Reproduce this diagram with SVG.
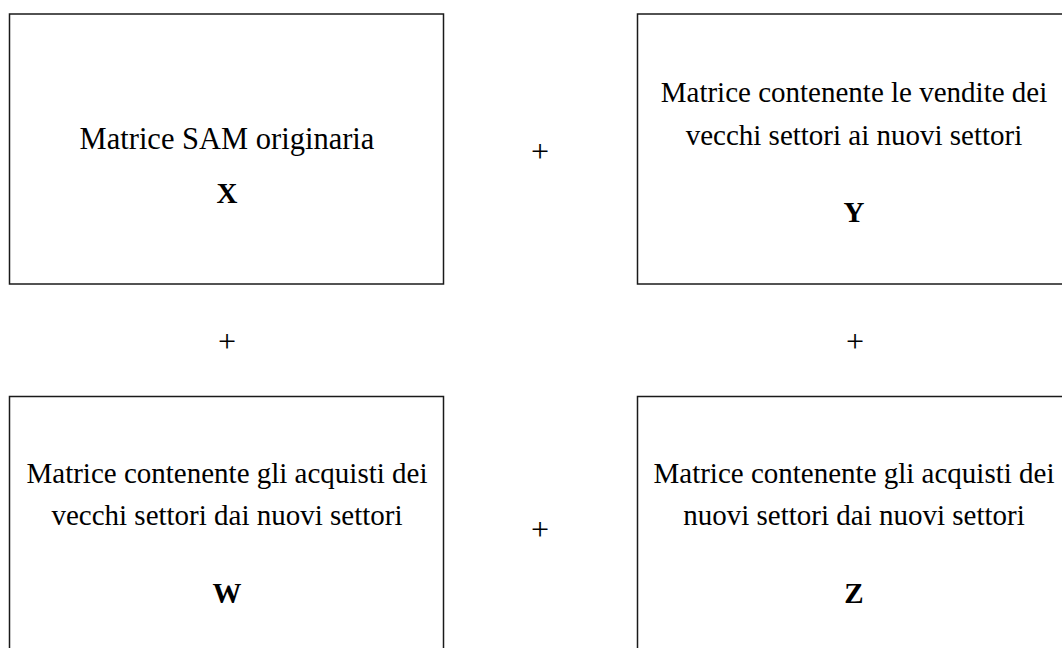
<svg xmlns="http://www.w3.org/2000/svg" width="1062" height="648" viewBox="0 0 1062 648">
  <style>
    .box { fill: #ffffff; stroke: #1a1a1a; stroke-width: 1.5; }
    .t { font-family: "Liberation Serif", "Times New Roman", serif; font-size: 29px; fill: #000; text-anchor: middle; }
    .b { font-weight: bold; }
    .op { font-family: "Liberation Serif", "Times New Roman", serif; font-size: 32px; fill: #000; text-anchor: middle; }
  </style>
  <rect width="1062" height="648" fill="#ffffff"/>

  <g id="node-x">
    <rect class="box" x="9.5" y="14" width="434" height="270"/>
    <text class="t" x="227" y="149" style="font-size:30.5px">Matrice SAM originaria</text>
    <text class="t b" x="227" y="203">X</text>
  </g>

  <g id="node-y">
    <rect class="box" x="637.5" y="14" width="434" height="270"/>
    <text class="t" x="854" y="102">Matrice contenente le vendite dei</text>
    <text class="t" x="854" y="145">vecchi settori ai nuovi settori</text>
    <text class="t b" x="854" y="222">Y</text>
  </g>

  <g id="node-w">
    <rect class="box" x="9.5" y="396.5" width="434" height="270"/>
    <text class="t" x="227" y="483">Matrice contenente gli acquisti dei</text>
    <text class="t" x="227" y="525">vecchi settori dai nuovi settori</text>
    <text class="t b" x="227" y="603">W</text>
  </g>

  <g id="node-z">
    <rect class="box" x="637.5" y="396.5" width="434" height="270"/>
    <text class="t" x="854" y="483">Matrice contenente gli acquisti dei</text>
    <text class="t" x="854" y="525">nuovi settori dai nuovi settori</text>
    <text class="t b" x="854" y="603">Z</text>
  </g>

  <g id="operators">
    <text class="op" x="540" y="162">+</text>
    <text class="op" x="227" y="352">+</text>
    <text class="op" x="855" y="352">+</text>
    <text class="op" x="540" y="540">+</text>
  </g>
</svg>
